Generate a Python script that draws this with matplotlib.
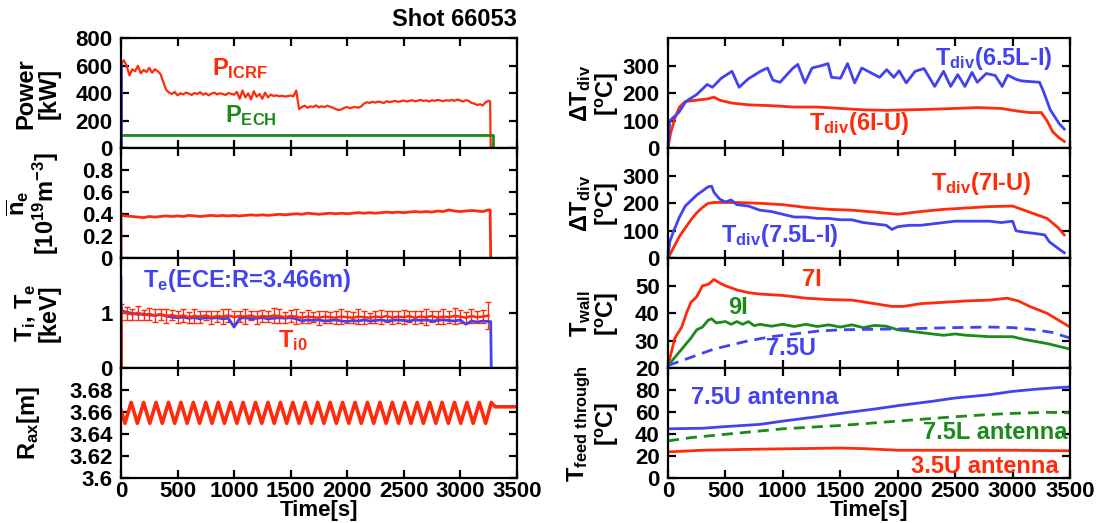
import numpy as np
import matplotlib
matplotlib.use("Agg")
import matplotlib.pyplot as plt

plt.rcParams["font.family"] = ["Liberation Sans", "DejaVu Sans"]
plt.rcParams["font.weight"] = "bold"
plt.rcParams["axes.labelweight"] = "bold"
plt.rcParams["mathtext.fontset"] = "custom"
plt.rcParams["mathtext.rm"] = "Liberation Sans:bold"
plt.rcParams["mathtext.it"] = "Liberation Sans:bold"
plt.rcParams["mathtext.bf"] = "Liberation Sans:bold"
plt.rcParams["mathtext.sf"] = "Liberation Sans:bold"

RED = "#ff2a0a"
BLUE = "#4242f0"
GREEN = "#1a8a1a"

# ---------------- left column data ----------------
# P_ICRF [kW], 25 s steps from 0 to 3250 s
icrf_p = [615, 640, 600, 530, 575, 560, 600, 545, 570, 555, 585, 550, 575, 560, 540,
          480, 425, 405, 395, 410, 385, 400, 392, 405, 398, 388, 402, 395, 408, 390,
          400, 385, 398, 405, 392, 400, 395, 388, 402, 396, 390,
          410, 360, 420, 370, 400, 355, 415, 375, 395, 360, 405, 370, 390, 380, 385,
          378, 382, 376, 380, 384, 378,
          420, 285, 300, 310, 295, 305, 300, 312, 298, 305, 300, 310, 302, 295, 285,
          278, 282, 295, 300, 292, 298, 300, 295, 305, 325,
          335, 330, 338, 332, 340, 335, 330, 342, 336, 340, 345, 338, 342, 348, 340,
          345, 350, 342, 346, 352, 345, 348, 340, 350, 345, 352, 348, 342, 350, 346,
          352, 345, 355, 348, 340, 350, 345, 330, 325, 315, 320, 312, 335, 345]
icrf_t = np.linspace(0, 3250, len(icrf_p))
icrf_end_t = [3265, 3270]
icrf_end_p = [340, 0]

ech_t = [0, 3290, 3290]
ech_p = [100, 100, 0]

# line-averaged density [1e19 m^-3], 50 s steps
ne_vals = [0.39, 0.385, 0.38, 0.375, 0.37, 0.38, 0.375, 0.38, 0.385, 0.38,
           0.385, 0.38, 0.39, 0.385, 0.38, 0.385, 0.39, 0.385, 0.39, 0.385,
           0.39, 0.385, 0.39, 0.395, 0.39, 0.395, 0.39, 0.395, 0.40, 0.395,
           0.40, 0.405, 0.40, 0.41, 0.405, 0.40, 0.405, 0.41, 0.405, 0.41,
           0.405, 0.41, 0.415, 0.41, 0.415, 0.41, 0.415, 0.42, 0.415, 0.42,
           0.415, 0.42, 0.425, 0.42, 0.425, 0.42, 0.43, 0.425, 0.44, 0.43,
           0.425, 0.43, 0.435, 0.43, 0.425, 0.44]
ne_t = np.linspace(0, 3250, len(ne_vals))
ne_end_t = [3265, 3270]
ne_end_v = [0.44, 0.0]

# Te (ECE) [keV], 50 s steps
te_vals = [1.05, 1.02, 1.00, 0.98, 0.99, 0.97, 0.96, 0.98, 0.95, 0.93,
           0.92, 0.93, 0.91, 0.92, 0.90, 0.92, 0.91, 0.92, 0.90, 0.91,
           0.75, 0.91, 0.92, 0.90, 0.91, 0.92, 0.90, 0.91, 0.92, 0.91,
           0.92, 0.90, 0.86, 0.88, 0.87, 0.88, 0.86, 0.87, 0.88, 0.86,
           0.85, 0.87, 0.86, 0.88, 0.86, 0.87, 0.88, 0.86, 0.87, 0.88,
           0.87, 0.86, 0.88, 0.87, 0.88, 0.86, 0.87, 0.88, 0.87, 0.86,
           0.88, 0.80, 0.86, 0.84, 0.86, 0.85]
te_t = np.linspace(0, 3250, len(te_vals))
te_start_v = 1.65
te_end_t = [3270, 3275]
te_end_v = [0.85, 0.0]

# Ti0 [keV] with error bars, 50 s steps
ti_vals = [1.02, 1.00, 0.98, 1.01, 0.97, 0.99, 0.96, 0.98, 0.95, 0.97,
           0.94, 0.96, 0.93, 0.95, 0.94, 0.96, 0.93, 0.95, 0.94, 0.96,
           0.93, 0.95, 0.94, 0.96, 0.93, 0.95, 0.94, 0.96, 0.95, 0.93,
           0.95, 0.94, 0.92, 0.94, 0.93, 0.92, 0.94, 0.93, 0.92, 0.94,
           0.93, 0.92, 0.94, 0.93, 0.92, 0.94, 0.93, 0.95, 0.92, 0.94,
           0.93, 0.95, 0.92, 0.94, 0.93, 0.95, 0.92, 0.94, 0.93, 0.95,
           0.94, 0.92, 0.95, 0.93, 0.94, 0.96]
ti_err = [0.14, 0.12, 0.10, 0.13, 0.09, 0.11, 0.12, 0.10, 0.13, 0.09,
          0.11, 0.12, 0.10, 0.13, 0.11, 0.09, 0.12, 0.10, 0.14, 0.11,
          0.12, 0.10, 0.13, 0.09, 0.12, 0.11, 0.10, 0.13, 0.12, 0.10,
          0.11, 0.13, 0.10, 0.12, 0.09, 0.13, 0.11, 0.10, 0.12, 0.14,
          0.11, 0.10, 0.13, 0.12, 0.09, 0.11, 0.13, 0.10, 0.12, 0.11,
          0.13, 0.10, 0.12, 0.11, 0.14, 0.10, 0.12, 0.13, 0.11, 0.15,
          0.12, 0.10, 0.13, 0.11, 0.12, 0.25]
ti_t = np.linspace(0, 3250, len(ti_vals))
ti_start_v = [0.0, 1.12]

# magnetic axis sweep [m]
rax_t = [0, 35, 90, 145, 200, 255, 310, 365, 420, 475, 530, 585, 640, 695, 750,
         805, 860, 915, 970, 1025, 1080, 1135, 1190, 1245, 1300, 1355, 1410, 1465,
         1520, 1575, 1630, 1685, 1740, 1795, 1850, 1905, 1960, 2015, 2070, 2125,
         2180, 2235, 2290, 2345, 2400, 2455, 2510, 2565, 2620, 2675, 2730, 2785,
         2840, 2895, 2950, 3005, 3060, 3115, 3170, 3225, 3275, 3310, 3500]
rax_v = [3.662] + [3.650, 3.669] * 29 + [3.650, 3.669, 3.665, 3.665]

# ---------------- right column data ----------------
div65_t = [0, 15, 93, 155, 248, 341, 387, 464, 557, 619, 697, 805, 867, 913, 975,
           1084, 1130, 1192, 1254, 1331, 1393, 1424, 1502, 1563, 1625, 1687, 1765,
           1842, 1904, 1966, 2012, 2074, 2152, 2229, 2322, 2399, 2461, 2523, 2585,
           2647, 2693, 2771, 2848, 2910, 2957, 3035, 3081, 3235, 3266, 3328, 3405, 3450]
div65_v = [0, 100, 130, 170, 195, 232, 222, 255, 280, 222, 252, 280, 292, 248, 240,
           290, 305, 238, 292, 300, 308, 258, 255, 308, 238, 292, 275, 258, 286, 258,
           282, 238, 280, 290, 225, 280, 225, 268, 225, 276, 240, 272, 265, 225, 266,
           250, 245, 240, 210, 140, 90, 70]

div6_t = [0, 20, 60, 100, 150, 250, 350, 400, 450, 550, 700, 900, 1100, 1300, 1500,
          1700, 1900, 2100, 2300, 2500, 2700, 2900, 3050, 3150, 3250, 3300, 3350, 3400, 3450]
div6_v = [0, 50, 110, 150, 170, 175, 180, 186, 175, 165, 158, 155, 150, 150, 145,
          140, 138, 140, 142, 145, 148, 145, 135, 130, 130, 100, 60, 40, 25]

div75_t = [0, 15, 50, 100, 150, 200, 250, 300, 350, 380, 400, 450, 500, 550, 600,
           700, 800, 900, 1000, 1100, 1200, 1300, 1400, 1500, 1600, 1700, 1800, 1900,
           1950, 2000, 2100, 2200, 2300, 2400, 2500, 2600, 2700, 2800, 2900, 3000,
           3030, 3100, 3200, 3280, 3320, 3400, 3450]
div75_v = [0, 60, 100, 150, 190, 210, 230, 245, 260, 262, 240, 215, 205, 212, 195,
           190, 175, 170, 160, 150, 150, 145, 145, 140, 140, 130, 125, 120, 105, 115,
           120, 120, 125, 130, 135, 135, 135, 135, 130, 135, 100, 95, 90, 85, 60, 35, 20]

div7_t = [0, 50, 100, 150, 200, 250, 300, 350, 400, 600, 800, 1000, 1200, 1400,
          1600, 1800, 2000, 2100, 2200, 2400, 2600, 2800, 3000, 3100, 3200, 3300, 3400, 3450]
div7_v = [0, 40, 80, 110, 140, 165, 185, 200, 203, 203, 200, 195, 185, 178, 175,
          168, 160, 165, 170, 178, 183, 188, 190, 175, 160, 145, 110, 85]

wall7_t = [0, 30, 60, 120, 160, 200, 250, 300, 350, 400, 450, 500, 600, 700, 800,
           1000, 1200, 1400, 1600, 1800, 1950, 2050, 2200, 2400, 2600, 2800, 2950,
           3050, 3150, 3300, 3400, 3500]
wall7_v = [21, 26, 31, 35, 40, 44, 46, 50, 50.5, 52.3, 51, 50, 48.5, 47.5, 47,
           46.5, 45.5, 45, 44.8, 43.5, 42.5, 42.5, 43.5, 44, 44.5, 44.8, 45.5,
           44.5, 42.5, 40, 37.5, 35]

wall9_t = [0, 100, 200, 250, 300, 350, 380, 420, 500, 550, 600, 650, 700, 750, 800,
           900, 1000, 1100, 1200, 1300, 1400, 1500, 1600, 1700, 1800, 1900, 2000,
           2200, 2300, 2400, 2500, 2600, 2800, 3000, 3100, 3300, 3500]
wall9_v = [21, 26, 31, 34, 35, 37.5, 38, 36.5, 37, 36, 37, 36, 37, 35.5, 36,
           35.3, 36, 35.2, 36, 35.2, 35.8, 35, 35.8, 34.8, 35.6, 35.3, 34,
           33, 32.5, 32, 32.5, 32, 31.5, 31.5, 30.5, 29, 27]

wall75_t = [0, 100, 200, 300, 400, 500, 700, 900, 1100, 1300, 1500, 1800, 2000,
            2200, 2500, 2800, 3000, 3200, 3350, 3500]
wall75_v = [21, 22.5, 24, 25.5, 27, 28, 30, 31.5, 32.5, 33.5, 34, 34.2, 34.3,
            34.5, 34.8, 35, 34.8, 34, 33, 31]

ft75u_t = [0, 300, 500, 800, 1000, 1300, 1500, 1800, 2000, 2300, 2500, 2800, 3000, 3200, 3400, 3500]
ft75u_v = [45, 45.5, 47, 49, 52, 56, 59, 63, 66, 70, 73, 76, 79, 81, 82.5, 83]

ft75l_t = [0, 200, 500, 800, 1000, 1500, 2000, 2500, 2800, 3000, 3300, 3500]
ft75l_v = [34, 37, 40, 43, 45, 48, 52, 56, 58, 59, 60, 59.5]

ft35u_t = [0, 300, 800, 1500, 1700, 2000, 2500, 3000, 3500]
ft35u_v = [24, 25.5, 26.5, 27.5, 27, 25.5, 25.5, 25.5, 25]

time_ticks = [0, 500, 1000, 1500, 2000, 2500, 3000, 3500]

# ---------------- figure ----------------
fig = plt.figure(figsize=(11, 5.23), dpi=100)

LW = 2.0
FS = 16     # tick labels
LFS = 17    # axis labels and annotations
left_x, left_w = 121 / 1100, 395.7 / 1100
right_x, right_w = 668 / 1100, 402 / 1100
top = 1 - 38.3 / 523
ph = 110 / 523
LEFT_LAB = -0.152
RIGHT_LAB = -0.118


def make_axes(x0, w, row):
    ax = fig.add_axes([x0, top - (row + 1) * ph, w, ph])
    ax.set_xlim(0, 3500)
    ax.set_xticks(time_ticks)
    ax.tick_params(direction="in", top=True, right=True, length=6, width=1.6,
                   labelsize=FS, pad=2)
    ax.tick_params(axis="y", pad=6)
    for sp in ax.spines.values():
        sp.set_linewidth(1.6)
    if row < 3:
        ax.tick_params(labelbottom=False)
    else:
        ax.set_xlabel("Time[s]", fontsize=16, labelpad=-1.5)
    return ax


# Power
ax = make_axes(left_x, left_w, 0)
ax.plot(icrf_t, icrf_p, color=RED, lw=1.6)
ax.plot(icrf_end_t, icrf_end_p, color=RED, lw=1.6)
ax.plot(ech_t, ech_p, color=GREEN, lw=LW)
ax.plot([0, 0], [0, icrf_p[0]], color=BLUE, lw=LW)
ax.set_ylim(0, 800)
ax.set_yticks([0, 200, 400, 600, 800])
ax.set_ylabel("Power\n[kW]", fontsize=LFS, linespacing=1.0)
ax.yaxis.set_label_coords(LEFT_LAB, 0.5)
ax.text(802, 536, r"P$_{ICRF}$", color=RED, fontsize=LFS)
ax.text(920, 190, r"P$_{ECH}$", color=GREEN, fontsize=LFS)
ax.text(3500, 935, "Shot 66053", ha="right", va="center", fontsize=LFS)

# density
ax = make_axes(left_x, left_w, 1)
ax.plot(np.r_[0, ne_t, ne_end_t], np.r_[0, ne_vals, ne_end_v], color=RED, lw=LW)
ax.set_ylim(0, 1.0)
ax.set_yticks([0, 0.2, 0.4, 0.6, 0.8])
ax.set_yticklabels(["0", "0.2", "0.4", "0.6", "0.8"])
ax.set_ylabel(r"$\overline{n}_e$" + "\n" + r"[10$^{19}$m$^{-3}$]", fontsize=LFS, linespacing=1.0)
ax.yaxis.set_label_coords(LEFT_LAB, 0.5)

# temperatures
ax = make_axes(left_x, left_w, 2)
ax.plot([0, 0], ti_start_v, color=RED, lw=LW)
ax.errorbar(ti_t, ti_vals, yerr=ti_err, color=RED, lw=1.8, elinewidth=1.0,
            capsize=2, capthick=1.0)
ax.plot(np.r_[0, te_t, te_end_t], np.r_[te_start_v, te_vals, te_end_v], color=BLUE, lw=LW)
ax.set_ylim(0, 2)
ax.set_yticks([0, 1])
ax.set_ylabel(r"T$_i$, T$_e$" + "\n[keV]", fontsize=LFS, linespacing=1.0)
ax.yaxis.set_label_coords(LEFT_LAB, 0.5)
ax.text(197, 1.48, r"T$_e$(ECE:R=3.466m)", color=BLUE, fontsize=LFS)
ax.text(1391, 0.39, r"T$_{i0}$", color=RED, fontsize=LFS)

# magnetic axis
ax = make_axes(left_x, left_w, 3)
ax.plot(rax_t, rax_v, color=RED, lw=2.6)
ax.set_ylim(3.6, 3.7)
ax.set_yticks([3.6, 3.62, 3.64, 3.66, 3.68])
ax.set_yticklabels(["3.6", "3.62", "3.64", "3.66", "3.68"])
ax.set_ylabel(r"R$_{ax}$[m]", fontsize=LFS)
ax.yaxis.set_label_coords(-0.2, 0.5)

# divertor 1
ax = make_axes(right_x, right_w, 0)
ax.plot(div6_t, div6_v, color=RED, lw=LW)
ax.plot(div65_t, div65_v, color=BLUE, lw=LW)
ax.set_ylim(0, 400)
ax.set_yticks([0, 100, 200, 300])
ax.set_ylabel(r"$\Delta$T$_{div}$" + "\n" + r"[$^{o}$C]", fontsize=LFS, linespacing=1.0)
ax.yaxis.set_label_coords(RIGHT_LAB, 0.5)
ax.text(2327, 304, r"T$_{div}$(6.5L-I)", color=BLUE, fontsize=LFS)
ax.text(1226, 67, r"T$_{div}$(6I-U)", color=RED, fontsize=LFS)

# divertor 2
ax = make_axes(right_x, right_w, 1)
ax.plot(div7_t, div7_v, color=RED, lw=LW)
ax.plot(div75_t, div75_v, color=BLUE, lw=LW)
ax.set_ylim(0, 400)
ax.set_yticks([0, 100, 200, 300])
ax.set_ylabel(r"$\Delta$T$_{div}$" + "\n" + r"[$^{o}$C]", fontsize=LFS, linespacing=1.0)
ax.yaxis.set_label_coords(RIGHT_LAB, 0.5)
ax.text(2290, 250, r"T$_{div}$(7I-U)", color=RED, fontsize=LFS)
ax.text(465, 58, r"T$_{div}$(7.5L-I)", color=BLUE, fontsize=LFS)

# wall
ax = make_axes(right_x, right_w, 2)
ax.plot(wall7_t, wall7_v, color=RED, lw=LW)
ax.plot(wall9_t, wall9_v, color=GREEN, lw=LW)
ax.plot(wall75_t, wall75_v, color=BLUE, lw=LW, dashes=(4, 2.5))
ax.set_ylim(20, 60)
ax.set_yticks([20, 30, 40, 50])
ax.set_ylabel(r"T$_{wall}$" + "\n" + r"[$^{o}$C]", fontsize=LFS, linespacing=1.0)
ax.yaxis.set_label_coords(RIGHT_LAB, 0.5)
ax.text(1168, 50, "7I", color=RED, fontsize=LFS)
ax.text(527, 39.8, "9I", color=GREEN, fontsize=LFS)
ax.text(849, 24.75, "7.5U", color=BLUE, fontsize=LFS)

# feed through
ax = make_axes(right_x, right_w, 3)
ax.plot(ft75u_t, ft75u_v, color=BLUE, lw=LW)
ax.plot(ft75l_t, ft75l_v, color=GREEN, lw=LW, dashes=(4, 2.5))
ax.plot(ft35u_t, ft35u_v, color=RED, lw=LW)
ax.set_ylim(0, 100)
ax.set_yticks([0, 20, 40, 60, 80])
ax.set_ylabel(r"T$_{feed\ through}$" + "\n" + r"[$^{o}$C]", fontsize=LFS, linespacing=1.0)
ax.yaxis.set_label_coords(RIGHT_LAB, 0.5)
ax.text(198, 67.4, "7.5U antenna", color=BLUE, fontsize=LFS)
ax.text(3480, 36, "7.5L antenna", color=GREEN, fontsize=LFS, ha="right")
ax.text(2119, 4.7, "3.5U antenna", color=RED, fontsize=LFS)

fig.savefig("out.png", dpi=100)
